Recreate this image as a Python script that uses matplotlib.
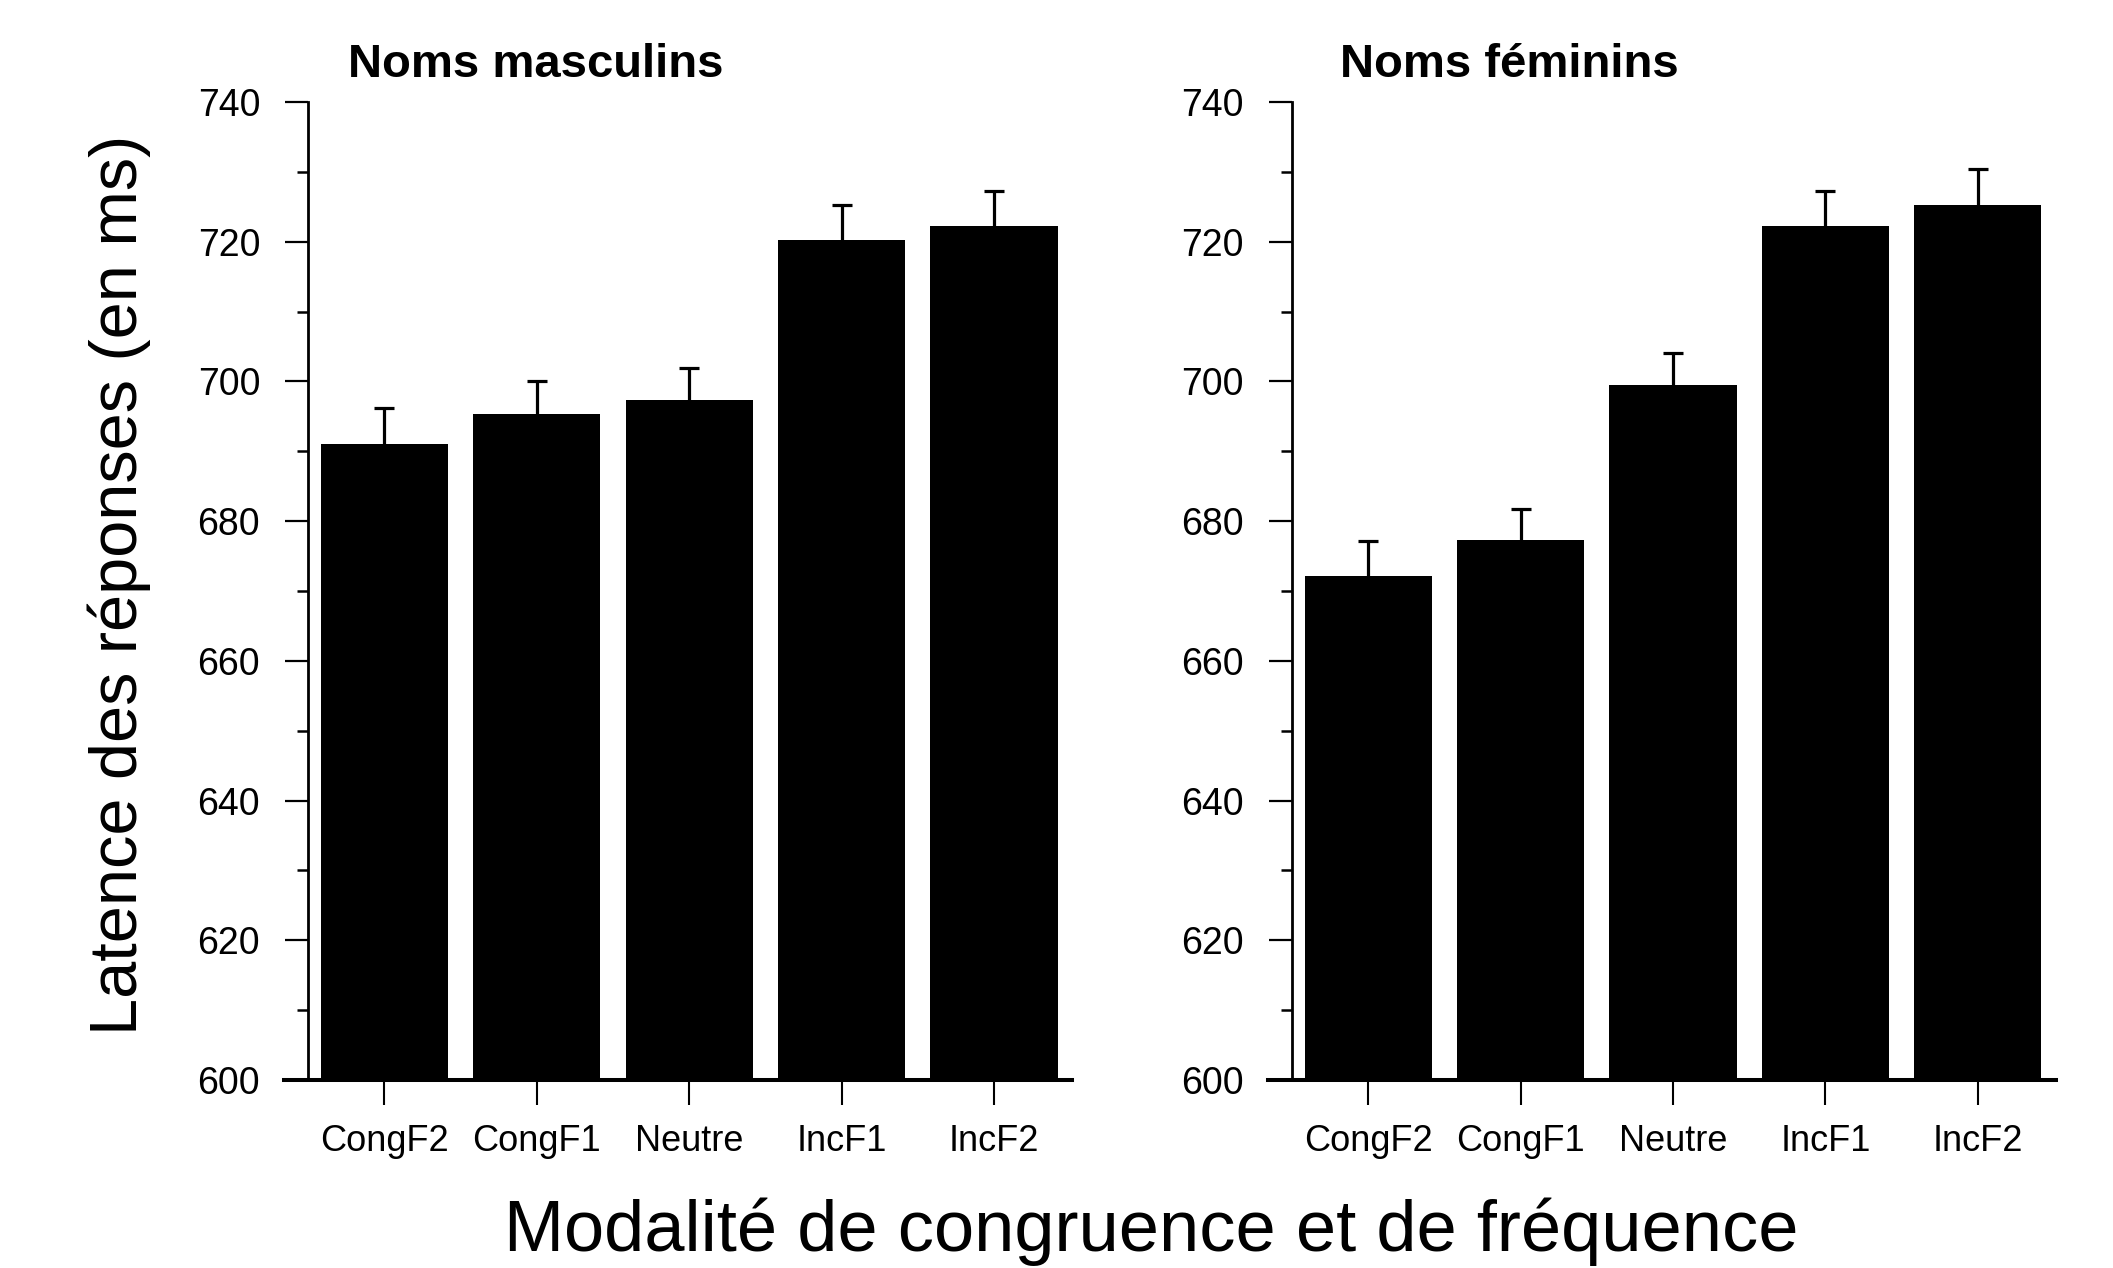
import matplotlib
matplotlib.use('Agg')
import matplotlib.pyplot as plt
import numpy as np

plt.rcParams['font.family'] = ['Liberation Sans', 'DejaVu Sans']

conditions = ['CongF2', 'CongF1', 'Neutre', 'IncF1', 'IncF2']
masc_lat = [691.1, 695.3, 697.4, 720.2, 722.2]
masc_err = [5.1, 4.7, 4.5, 5.1, 5.0]
fem_lat = [672.1, 677.3, 699.5, 722.2, 725.3]
fem_err = [5.0, 4.5, 4.5, 5.0, 5.1]
titles = ['Noms masculins', 'Noms féminins']
yticks = [600, 620, 640, 660, 680, 700, 720, 740]

fig = plt.figure(figsize=(21.13, 12.68), dpi=100)

# axes placed by hand to follow the original layout
ax1 = fig.add_axes([0.1343, 0.14826, 0.3729, 0.77129])
ax2 = fig.add_axes([0.5999, 0.14826, 0.3729, 0.77129])

x = np.arange(1, len(conditions) + 1)

for ax, lat, err in [(ax1, masc_lat, masc_err), (ax2, fem_lat, fem_err)]:
    ax.bar(x, np.array(lat) - 600, width=0.835, bottom=600, color='black', edgecolor='none', zorder=3)
    eb = ax.errorbar(x, lat, yerr=[np.zeros(len(err)), err], fmt='none', ecolor='black',
                     elinewidth=2.3, capsize=7.5, capthick=2.3, zorder=2)
    # only the upper cap is shown in the original
    eb[1][0].set_visible(False)
    ax.set_xlim(0.34, 5.51)
    ax.set_ylim(600, 740)
    ax.set_xticks(x)
    ax.set_xticklabels(conditions)
    ax.set_yticks(yticks)
    ax.set_yticks(np.arange(610, 740, 20), minor=True)
    ax.spines['top'].set_visible(False)
    ax.spines['right'].set_visible(False)
    ax.spines['left'].set_position(('data', 0.5))
    ax.spines['left'].set_linewidth(2.0)
    ax.spines['bottom'].set_linewidth(2.9)
    ax.tick_params(axis='x', direction='out', length=18, width=1.5, pad=14, labelsize=26)
    ax.tick_params(axis='y', which='major', direction='out', length=16.5, width=1.6, pad=18, labelsize=27)
    ax.tick_params(axis='y', which='minor', direction='out', length=8, width=1.8)

fig.text(0.2537, 0.9393, titles[0], ha='center', va='baseline', fontsize=34, fontweight='bold')
fig.text(0.7141, 0.9393, titles[1], ha='center', va='baseline', fontsize=34, fontweight='bold')

fig.text(0.0566, 0.5386, 'Latence des réponses (en ms)', rotation=90, ha='center', va='center', fontsize=48)
fig.text(0.545, 0.0134, 'Modalité de congruence et de fréquence', ha='center', va='baseline', fontsize=52)

plt.savefig('out.png', dpi=100)
